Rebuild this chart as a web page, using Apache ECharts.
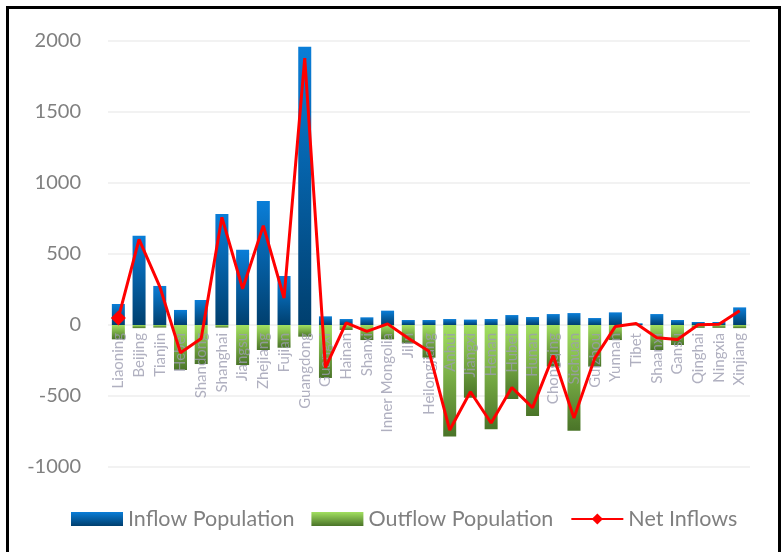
<!DOCTYPE html>
<html>
<head>
<meta charset="utf-8">
<script src="https://cdn.jsdelivr.net/npm/echarts@6/dist/echarts.min.js"></script>
<style>
html,body{margin:0;padding:0;background:#fff;}
#wrap{position:relative;width:781px;height:552px;overflow:hidden;}
#frame{position:absolute;left:6px;top:6px;width:775px;height:560px;border:3px solid #000;box-sizing:border-box;pointer-events:none;z-index:10;}
#chart{position:absolute;left:0;top:0;width:781px;height:552px;}
</style>
</head>
<body>
<div id="wrap"><div id="chart"></div><div id="frame"></div></div>
<script>
const provinces = ['Liaoning','Beijing','Tianjin','Hebei','Shandong','Shanghai','Jiangsu','Zhejiang','Fujian','Guangdong','Guangxi','Hainan','Shanxi','Inner Mongolia','Jilin','Heilongjiang','Anhui','Jiangxi','Henan','Hubei','Hunan','Chongqing','Sichuan','Guizhou','Yunnan','Tibet','Shaanxi','Gansu','Qinghai','Ningxia','Xinjiang'];
const inflow = [148, 629, 275, 106, 176, 782, 530, 873, 345, 1960, 61, 42, 54, 101, 35, 35, 42, 38, 42, 70, 56, 77, 84, 49, 89, 12, 77, 35, 21, 21, 124];
const outflow = [-101, -22, -18, -317, -275, -18, -282, -176, -160, -82, -373, -35, -106, -101, -129, -230, -786, -512, -735, -521, -641, -293, -744, -293, -106, -2, -176, -141, -20, -20, -22];
const netInflows = [50, 603, 270, -195, -95, 758, 255, 700, 190, 1880, -300, 15, -45, 8, -94, -185, -740, -470, -690, -440, -582, -216, -655, -235, -10, 10, -90, -102, 2, 5, 100];
const yTicks = {min: -1000, max: 2000, interval: 500};

const chart = echarts.init(document.getElementById('chart'), null, {renderer: 'canvas'});
const font = 'Lato, "Open Sans", sans-serif';
const blueGrad = new echarts.graphic.LinearGradient(0, 0, 0, 1, [
  {offset: 0, color: '#0a7ed8'}, {offset: 1, color: '#003f6e'}]);
const greenGrad = new echarts.graphic.LinearGradient(0, 0, 0, 1, [
  {offset: 0, color: '#a2e060'}, {offset: 1, color: '#4a7428'}]);

const netData = netInflows.map((v, i) => i === 0 ? {value: v, symbol: 'diamond', symbolSize: 15} : {value: v, symbol: 'none'});
// category labels drawn at the zero line, above the bars
const labelData = provinces.map(p => ({value: [p, 0], name: p}));

chart.setOption({
  animation: false,
  backgroundColor: '#fff',
  grid: {left: 108, right: 31, top: 41, bottom: 85, containLabel: false, outerBoundsMode: 'none'},
  legend: {
    bottom: 17, left: 66,
    itemWidth: 52, itemHeight: 14, itemGap: 17,
    textStyle: {color: '#808080', fontSize: 21.5, fontFamily: font},
    data: [
      {name: 'Inflow Population', icon: 'rect'},
      {name: 'Outflow Population', icon: 'rect'},
      {name: 'Net Inflows'}
    ]
  },
  xAxis: {
    type: 'category',
    data: provinces,
    axisLine: {show: false, onZero: false},
    axisTick: {show: false},
    axisLabel: {show: false}
  },
  yAxis: {
    type: 'value',
    min: yTicks.min, max: yTicks.max, interval: yTicks.interval,
    axisLine: {show: false}, axisTick: {show: false},
    axisLabel: {color: '#808080', fontSize: 20, fontFamily: font, margin: 27, formatter: v => String(v)},
    splitLine: {lineStyle: {color: '#f2f2f2', width: 2}}
  },
  series: [
    {name: 'Inflow Population', type: 'bar', data: inflow, barWidth: 13, barGap: '-100%',
     itemStyle: {color: blueGrad}, z: 2},
    {name: 'Outflow Population', type: 'bar', data: outflow, barWidth: 13,
     itemStyle: {color: greenGrad}, z: 2},
    {name: 'labels', type: 'scatter', data: labelData, symbolSize: 0, silent: true, z: 4,
     label: {show: true, formatter: p => p.name, position: 'bottom', distance: 8, rotate: 90,
             align: 'right', verticalAlign: 'middle', color: '#9c9cb0', fontSize: 15, fontFamily: font}},
    {name: 'Net Inflows', type: 'line', data: netData, symbol: 'diamond', symbolSize: 15, showAllSymbol: true,
     lineStyle: {color: '#ff0000', width: 3}, itemStyle: {color: '#ff0000'}, z: 5}
  ]
});
</script>
</body>
</html>
